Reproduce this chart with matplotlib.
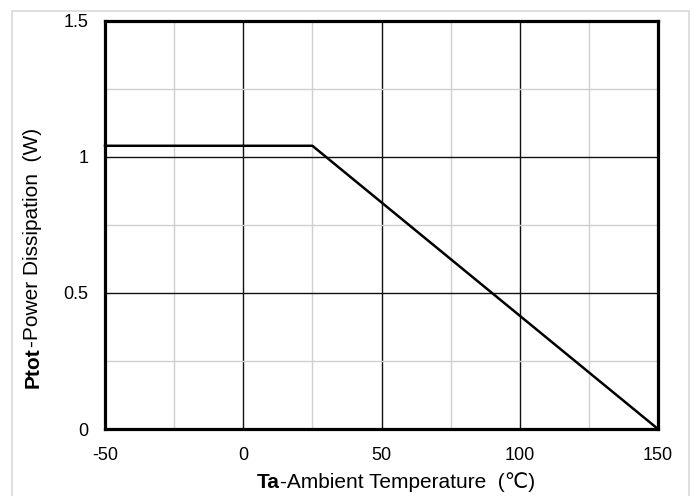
import matplotlib
matplotlib.use("Agg")
import matplotlib.pyplot as plt
from matplotlib.patches import Rectangle

plt.rcParams['font.family'] = ['Liberation Sans', 'DejaVu Sans']

# derating curve: ambient temperature (C) vs power dissipation (W)
temp = [-50, 25, 150]
power = [1.04, 1.04, 0]

x_ticks = [-50, 0, 50, 100, 150]
x_labels = ['-50', '0', '50', '100', '150']
y_ticks = [0, 0.5, 1, 1.5]
y_labels = ['0', '0.5', '1', '1.5']
x_minor = [-25, 25, 75, 125]
y_minor = [0.25, 0.75, 1.25]

fig = plt.figure(figsize=(6.98, 4.96), dpi=100)
fig.patches.append(Rectangle((12 / 698, -0.05), 677 / 698, 1.05 - 11 / 496,
                             transform=fig.transFigure, fill=False,
                             edgecolor='#d9d9d9', linewidth=1.2))

ax = fig.add_axes([105 / 698, 1 - 429 / 496, 553 / 698, 408.5 / 496])
ax.set_xlim(-50, 150)
ax.set_ylim(0, 1.5)

ax.set_xticks(x_ticks)
ax.set_xticklabels(x_labels)
ax.set_yticks(y_ticks)
ax.set_yticklabels(y_labels)
ax.set_xticks(x_minor, minor=True)
ax.set_yticks(y_minor, minor=True)
ax.tick_params(which='both', length=0)
ax.tick_params(axis='x', labelsize=13, pad=13)
ax.tick_params(axis='y', labelsize=13, pad=12)

ax.grid(which='minor', color='#d0d0d0', linewidth=1.0)
ax.grid(which='major', color='#111111', linewidth=1.0)
ax.set_axisbelow(True)

for s in ax.spines.values():
    s.set_linewidth(2.3)
    s.set_color('black')
    s.set_zorder(5)

ax.plot(temp, power, color='black', linewidth=1.8, zorder=4, clip_on=False)

# x axis title: bold "Ta" followed by plain text
t1 = fig.text(257 / 698, 1 - 488 / 496, 'Ta', fontsize=15, fontweight='bold',
              ha='left', va='baseline')
ax.annotate('-Ambient Temperature  (\u2103)', xy=(1, 0), xycoords=t1,
            fontsize=15, ha='left', va='bottom')

# y axis title: bold "Ptot" followed by plain text, rotated
t2 = fig.text(33 / 698, 1 - 388 / 496, 'Ptot', fontsize=15, fontweight='bold',
              rotation=90, ha='center', va='bottom')
ax.annotate('-Power Dissipation  (W)', xy=(0.5, 1), xycoords=t2,
            fontsize=15, rotation=90, ha='center', va='bottom')

fig.savefig('out.png', dpi=100)
